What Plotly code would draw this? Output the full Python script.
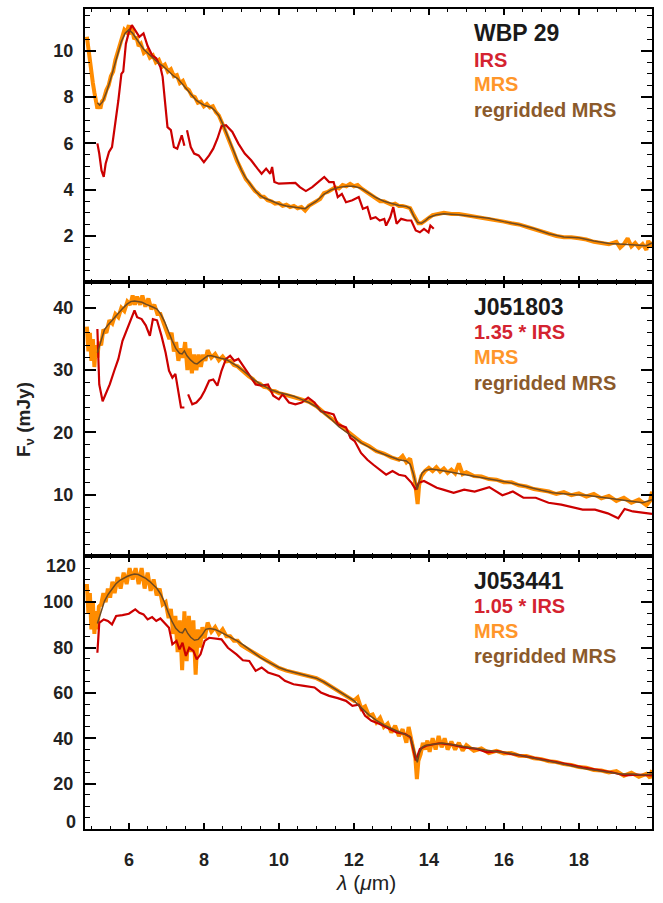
import plotly.graph_objects as go

# ---------------- data ----------------
# Panel 1: WBP 29
p1_mrs_x = [4.88,4.92,4.96,5.0,5.04,5.08,5.12,5.16,5.2,5.24,5.28,5.33,5.4,5.46,5.52,5.58,5.64,5.7,5.76,5.82,5.88,5.94,6.0,6.04,6.08,6.14,6.2,6.26,6.32,6.4,6.48,6.56,6.64,6.72,6.8,6.88,6.96,7.04,7.12,7.2,7.28,7.36,7.44,7.52,7.6,7.68,7.76,7.84,7.92,8.0,8.08,8.16,8.24,8.32,8.4,8.48,8.56,8.64,8.72,8.8,8.88,8.96,9.04,9.12,9.2,9.28,9.36,9.44,9.52,9.6,9.7,9.8,9.9,10.0,10.1,10.2,10.3,10.4,10.5,10.6,10.7,10.8,10.9,11.0,11.1,11.2,11.3,11.4,11.5,11.6,11.7,11.8,11.9,12.0,12.1,12.2,12.3,12.4,12.5,12.6,12.7,12.8,12.9,13.0,13.1,13.2,13.3,13.4,13.5,13.58,13.65,13.72,13.8,13.9,14.0,14.1,14.25,14.4,14.6,14.8,15.0,15.2,15.4,15.6,15.8,16.0,16.2,16.4,16.6,16.8,17.0,17.2,17.4,17.6,17.8,18.0,18.2,18.4,18.6,18.8,19.0,19.1,19.2,19.3,19.4,19.5,19.6,19.7,19.8,19.85,19.9,19.95]
p1_mrs_y = [10.6,10.0,9.5,9.0,8.6,8.2,7.8,7.5,7.7,7.5,7.8,7.9,8.3,8.5,8.9,9.1,9.6,9.9,10.3,10.5,10.9,10.8,11.1,10.7,11.0,10.5,10.6,10.2,10.3,9.9,10.0,9.7,9.8,9.5,9.6,9.3,9.4,9.1,9.2,8.9,8.95,8.6,8.7,8.4,8.3,8.05,8.0,7.75,7.8,7.6,7.7,7.55,7.6,7.35,7.2,6.9,6.6,6.3,5.9,5.6,5.25,4.95,4.7,4.45,4.3,4.1,3.95,3.85,3.7,3.7,3.55,3.5,3.4,3.42,3.3,3.35,3.25,3.3,3.2,3.25,3.1,3.3,3.4,3.55,3.6,3.85,3.9,4.0,4.1,4.05,4.2,4.15,4.25,4.15,4.2,4.05,3.95,3.85,3.7,3.65,3.5,3.5,3.4,3.35,3.4,3.3,3.3,3.25,3.2,2.95,2.7,2.55,2.55,2.65,2.8,2.9,2.95,3.0,2.95,2.95,2.9,2.85,2.8,2.75,2.7,2.62,2.55,2.5,2.4,2.3,2.2,2.1,2.0,1.95,1.95,1.9,1.85,1.75,1.7,1.65,1.75,1.5,1.65,1.9,1.55,1.7,1.5,1.65,1.4,1.8,1.55,1.75]
p1_reg_x = [5.16,5.22,5.3,5.4,5.5,5.6,5.7,5.8,5.9,6.0,6.1,6.2,6.3,6.4,6.5,6.6,6.7,6.8,6.9,7.0,7.1,7.2,7.3,7.4,7.5,7.6,7.7,7.8,7.9,8.0,8.1,8.2,8.3,8.4,8.5,8.6,8.7,8.8,8.9,9.0,9.1,9.2,9.3,9.4,9.5,9.6,9.8,10.0,10.2,10.4,10.6,10.7,10.8,11.0,11.2,11.4,11.6,11.8,12.0,12.2,12.4,12.6,12.8,13.0,13.2,13.4,13.5,13.6,13.7,13.8,13.9,14.0,14.2,14.4,14.8,15.2,15.6,16.0,16.4,16.8,17.2,17.6,18.0,18.4,18.8,19.2,19.6,19.8,19.95]
p1_reg_y = [7.75,7.65,7.8,8.2,8.7,9.3,9.9,10.4,10.75,10.9,10.75,10.5,10.3,10.05,9.9,9.75,9.6,9.45,9.35,9.2,9.05,8.9,8.8,8.6,8.45,8.25,8.05,7.85,7.75,7.65,7.6,7.55,7.4,7.2,6.85,6.45,6.0,5.6,5.2,4.85,4.55,4.3,4.1,3.9,3.75,3.65,3.5,3.38,3.3,3.25,3.2,3.18,3.3,3.5,3.8,4.0,4.1,4.15,4.15,4.05,3.85,3.65,3.5,3.4,3.32,3.28,3.2,2.85,2.58,2.55,2.65,2.8,2.92,2.96,2.92,2.84,2.77,2.62,2.5,2.32,2.1,1.96,1.92,1.78,1.68,1.64,1.6,1.58,1.7]
p1_irs_x = [5.16,5.21,5.27,5.33,5.38,5.47,5.55,5.63,5.72,5.8,5.85,5.92,6.0,6.08,6.17,6.28,6.39,6.5,6.62,6.73,6.84,6.9,6.96,7.03,7.12,7.2,7.29,7.41,7.48,7.52,7.55,7.65,7.74,7.86,8.0,8.14,8.25,8.36,8.47,8.59,8.76,8.92,9.09,9.26,9.43,9.54,9.66,9.77,9.82,9.88,10.0,10.22,10.44,10.56,10.72,10.89,11.06,11.21,11.34,11.46,11.57,11.68,11.79,11.96,12.13,12.24,12.36,12.45,12.58,12.69,12.81,12.86,12.97,13.05,13.14,13.26,13.42,13.53,13.65,13.76,13.87,13.99,14.04,14.13]
p1_irs_y = [6.0,5.56,4.83,4.55,5.12,5.63,5.84,6.7,7.86,9.0,9.1,10.3,10.8,11.1,10.9,10.6,10.75,10.2,9.8,9.67,9.3,8.87,7.86,6.7,6.57,5.84,5.77,6.35,5.9,None,6.57,5.84,5.56,5.48,5.19,5.48,5.77,6.2,6.74,6.78,6.49,5.99,5.56,5.27,4.91,4.69,4.91,4.69,4.98,4.33,4.26,4.26,4.29,4.11,3.94,4.11,4.33,4.55,4.33,4.33,3.68,3.82,3.46,3.54,3.68,3.17,3.25,2.74,2.81,2.67,2.74,2.45,2.81,3.25,2.53,2.74,2.67,2.67,2.24,2.16,2.31,2.16,2.45,2.31]

# Panel 2: J051803
p2_mrs_x = [4.88,4.92,4.96,5.0,5.04,5.08,5.12,5.16,5.2,5.26,5.32,5.4,5.48,5.56,5.64,5.72,5.8,5.88,5.96,6.04,6.1,6.16,6.22,6.3,6.36,6.44,6.52,6.6,6.68,6.76,6.84,6.92,7.0,7.08,7.14,7.2,7.26,7.32,7.38,7.44,7.5,7.56,7.62,7.68,7.74,7.8,7.86,7.92,7.98,8.04,8.1,8.2,8.3,8.4,8.5,8.6,8.7,8.8,8.9,9.0,9.1,9.2,9.3,9.4,9.5,9.6,9.7,9.8,9.9,10.0,10.2,10.4,10.6,10.8,11.0,11.2,11.4,11.6,11.8,12.0,12.2,12.4,12.6,12.8,13.0,13.2,13.3,13.4,13.5,13.56,13.62,13.66,13.7,13.74,13.8,13.9,14.0,14.1,14.2,14.3,14.4,14.5,14.6,14.7,14.8,14.9,15.0,15.2,15.4,15.6,15.8,16.0,16.2,16.4,16.6,16.8,17.0,17.2,17.4,17.6,17.8,18.0,18.2,18.4,18.6,18.8,19.0,19.2,19.4,19.6,19.8,19.9,19.95]
p2_mrs_y = [37.0,33.0,36.0,31.5,35.0,30.5,34.0,32.0,34.5,34.0,36.5,36.0,38.0,37.5,39.0,38.5,40.0,39.5,41.0,40.5,42.0,40.5,41.8,40.5,42.0,40.2,41.5,39.8,40.5,39.0,39.0,37.5,36.5,35.0,36.0,33.0,34.5,31.5,33.5,32.0,34.5,30.0,33.5,29.5,32.5,30.0,32.5,30.5,32.5,31.5,33.2,32.0,32.6,31.6,32.2,31.4,31.5,30.8,30.6,30.0,29.6,29.0,28.6,28.0,27.8,27.3,27.2,26.7,26.6,26.3,26.0,25.7,25.3,24.9,24.2,23.2,22.2,21.2,20.3,19.4,18.4,17.8,17.0,16.6,16.0,15.6,16.2,15.2,15.8,14.0,12.5,10.5,8.5,11.5,13.0,13.8,14.3,13.8,14.4,13.7,14.2,13.5,14.0,13.4,15.0,13.3,13.6,13.0,12.9,12.5,12.4,12.0,12.0,11.5,11.3,10.9,10.7,10.5,10.1,10.4,9.9,10.2,9.7,10.1,9.4,9.8,9.0,9.5,8.7,9.2,8.3,9.0,10.5]
p2_reg_x = [5.16,5.25,5.35,5.45,5.55,5.65,5.75,5.85,5.95,6.05,6.15,6.25,6.35,6.45,6.55,6.65,6.75,6.85,6.95,7.05,7.15,7.25,7.35,7.42,7.48,7.55,7.65,7.75,7.82,7.9,8.0,8.1,8.2,8.3,8.45,8.6,8.75,8.9,9.05,9.2,9.35,9.5,9.65,9.8,10.0,10.2,10.4,10.6,10.8,11.0,11.2,11.4,11.6,11.8,12.0,12.2,12.4,12.6,12.8,13.0,13.2,13.4,13.5,13.58,13.64,13.69,13.75,13.82,13.9,14.05,14.3,14.6,14.9,15.2,15.5,15.8,16.1,16.4,16.7,17.0,17.3,17.6,17.9,18.2,18.5,18.8,19.1,19.4,19.7,19.95]
p2_reg_y = [32.8,34.5,36.5,37.3,38.0,38.6,39.3,40.0,40.6,41.0,41.1,41.0,40.9,40.6,40.4,40.1,39.8,39.0,37.8,36.2,34.8,33.5,32.7,32.6,33.1,32.3,31.6,31.1,31.0,31.4,31.9,32.3,32.3,32.1,31.9,31.7,31.2,30.6,29.9,29.1,28.4,27.8,27.3,26.8,26.4,26.1,25.8,25.3,24.8,24.1,23.1,22.1,20.9,20.1,19.2,18.3,17.6,17.0,16.5,16.0,15.6,15.4,14.9,13.5,11.8,10.8,12.3,13.5,13.9,14.1,13.9,13.6,13.25,12.9,12.6,12.35,12.0,11.6,11.1,10.7,10.3,10.1,10.0,9.9,9.7,9.4,9.2,8.95,8.7,9.2]
p2_irs_x = [5.16,5.21,5.3,5.38,5.49,5.61,5.72,5.83,5.94,6.06,6.15,6.22,6.34,6.45,6.56,6.64,6.75,6.87,6.98,7.07,7.16,7.24,7.32,7.39,7.48,7.53,7.58,7.69,7.8,7.92,8.02,8.14,8.25,8.36,8.47,8.59,8.7,8.81,8.92,9.09,9.26,9.38,9.54,9.71,9.85,10.0,10.1,10.27,10.44,10.61,10.78,10.95,11.12,11.29,11.46,11.57,11.68,11.79,11.91,12.02,12.19,12.36,12.52,12.69,12.86,13.03,13.2,13.37,13.54,13.65,13.73,13.87,14.04,14.21,14.38,14.66,14.94,15.22,15.61,15.96,16.24,16.52,16.85,17.19,17.53,17.75,18.1,18.43,18.77,19.05,19.22,19.44,19.78,19.95]
p2_irs_y = [36.6,27.7,25.0,26.1,27.7,29.9,31.8,34.7,36.3,38.0,39.6,38.5,38.2,37.2,35.5,38.2,38.0,35.5,32.8,29.9,28.8,29.4,26.7,24.0,24.0,None,26.1,24.5,24.8,25.6,26.7,28.3,28.5,27.5,29.9,31.8,32.3,31.5,31.8,30.4,28.8,27.7,27.5,27.7,25.9,25.3,26.1,24.8,24.5,24.8,25.6,24.8,23.4,23.2,22.9,21.3,21.0,20.8,19.1,18.6,16.7,15.6,14.8,14.0,13.2,13.8,13.2,13.0,11.9,10.8,11.9,12.2,11.6,11.1,10.8,10.3,10.8,10.5,11.2,9.9,10.5,9.5,9.5,8.7,8.4,8.1,7.6,7.6,7.0,6.2,7.7,7.3,7.0,6.9]

# Panel 3: J053441
p3_mrs_x = [4.88,4.92,4.96,5.0,5.04,5.08,5.12,5.16,5.2,5.26,5.32,5.38,5.44,5.5,5.56,5.62,5.7,5.78,5.86,5.94,6.02,6.1,6.18,6.26,6.34,6.42,6.5,6.58,6.66,6.74,6.82,6.9,6.98,7.06,7.12,7.18,7.24,7.3,7.36,7.42,7.48,7.54,7.6,7.66,7.72,7.78,7.84,7.9,7.96,8.02,8.1,8.2,8.3,8.4,8.5,8.6,8.7,8.8,8.9,9.0,9.1,9.2,9.3,9.4,9.5,9.6,9.7,9.8,9.9,10.0,10.2,10.4,10.6,10.8,11.0,11.2,11.4,11.6,11.8,12.0,12.1,12.2,12.3,12.4,12.5,12.6,12.7,12.8,12.9,13.0,13.1,13.2,13.3,13.4,13.46,13.52,13.58,13.64,13.68,13.72,13.78,13.84,13.9,13.96,14.02,14.1,14.18,14.26,14.34,14.42,14.5,14.6,14.7,14.8,14.9,15.0,15.2,15.4,15.6,15.8,16.0,16.2,16.4,16.6,16.8,17.0,17.2,17.4,17.6,17.8,18.0,18.2,18.4,18.6,18.8,19.0,19.2,19.4,19.6,19.8,19.9,19.95]
p3_mrs_y = [108,95,104,88,100,86,96,88,98,99,104,100,106,102,109,104,111,106,113,108,115,110,115,108,115,106,113,105,110,103,106,99,100,93,97,86,94,78,92,70,96,74,94,78,92,68,88,80,89,84,91,87,89,86,88,85,85,83,83,81,80,79,77.5,76.5,75.5,74.5,73.5,72.5,72,71,69.8,69,68,67.3,66.5,64.8,62.8,60.5,58.8,56.5,58,53,54,50,50.5,47,49,45,46.5,42.5,45.5,41,44,38,45,40,37,31,22,30,33,38,35,39,34,40,35,41,36,40,35,38.5,35,38,34.5,37,34.5,35.5,33.5,34.5,33.3,33.5,32.3,32.2,31.2,30.8,29.9,29.5,28.6,28.2,27.3,27.0,26.0,25.8,24.9,25.5,23.5,24.8,23.0,24.3,22.5,26]
p3_reg_x = [5.16,5.25,5.35,5.45,5.55,5.65,5.75,5.85,5.95,6.05,6.15,6.25,6.35,6.45,6.55,6.65,6.75,6.85,6.95,7.05,7.15,7.25,7.35,7.43,7.5,7.57,7.65,7.75,7.85,7.95,8.05,8.15,8.3,8.45,8.6,8.75,8.9,9.05,9.2,9.35,9.5,9.65,9.8,10.0,10.2,10.4,10.6,10.8,11.0,11.2,11.4,11.6,11.8,12.0,12.2,12.4,12.6,12.8,13.0,13.2,13.4,13.5,13.58,13.64,13.69,13.75,13.82,13.9,14.1,14.35,14.6,14.9,15.2,15.5,15.8,16.1,16.4,16.7,17.0,17.3,17.6,17.9,18.2,18.5,18.8,19.1,19.4,19.7,19.95]
p3_reg_y = [90.6,95,100.5,103.5,106,108,109.5,110.5,111.3,112,112.4,112.2,111.5,110.5,109.2,107.7,106,103.5,100,95.5,91.5,88.5,86.8,86.5,88.5,86.2,84.5,83.2,83.6,85.5,88.0,88.4,88.0,86.8,85.5,84.3,82.8,81.2,79.3,77.4,75.7,74.2,72.8,71.2,70,69.1,68.2,67.4,66.5,64.8,62.7,60.5,58.6,56.6,53.4,50.3,47.9,45.9,44.3,42.8,41.6,40.8,36.5,32.0,29.4,33.5,36.0,36.8,37.4,37.9,37.3,36.4,35.5,34.8,34.2,33.6,32.6,31.4,30.5,29.6,28.5,27.6,26.5,25.8,25.1,24.2,24.2,23.8,24.3]
p3_irs_x = [5.16,5.21,5.33,5.44,5.55,5.66,5.83,6.0,6.17,6.28,6.39,6.5,6.62,6.73,6.84,6.98,7.07,7.16,7.27,7.35,7.43,7.52,7.61,7.72,7.81,7.91,8.02,8.14,8.31,8.47,8.64,8.87,9.04,9.21,9.38,9.54,9.71,10.0,10.16,10.39,10.67,10.95,11.12,11.34,11.57,11.79,11.96,12.13,12.3,12.47,12.69,12.92,13.14,13.37,13.51,13.65,13.76,13.93,14.27,14.6,14.94,15.28,15.56,15.84,16.18,16.63,16.97,17.3,17.75,18.1,18.55,18.88,19.22,19.55,19.95]
p3_irs_y = [77.7,90.9,92.4,91.7,90.2,93.9,94.3,94.9,96.8,95.3,94.6,92.4,93.4,91.7,92.8,90.2,88.7,81.4,82.9,79.2,82.1,76.3,79.9,78.5,74.8,77.0,82.9,84.3,84.0,83.6,79.9,77.0,74.4,74.1,69.7,71.2,69.0,67.5,65.3,63.8,63.1,62.4,60.2,58.7,57.7,56.5,54.3,54.8,49.9,47.7,46.3,44.5,42.6,41.9,40.4,30.2,35.3,36.7,37.8,37.2,36.0,35.3,33.8,34.3,33.1,31.9,30.9,29.9,28.4,27.2,25.8,25.0,23.6,24.0,23.6]

panel_names = ["WBP 29", "J051803", "J053441"]
irs_labels = ["IRS", "1.35 * IRS", "1.05 * IRS"]
y_ranges = [[0, 11.8], [0.2, 44.1], [0, 120.5]]
y_tickvals = [[2, 4, 6, 8, 10], [10, 20, 30, 40], [20, 40, 60, 80, 100]]
y_edge_labels = ["0", "120"]   # bottom panel labels drawn just inside the frame
y_minor = [0.5, 2, 5]
x_range = [4.83, 19.95]

# ---------------- figure ----------------
C_MRS = "#ff8c00"
C_IRS = "#cc0000"
C_REG = "#6e4a22"
FONT = "Liberation Sans"

panels = [
    (p1_mrs_x, p1_mrs_y, p1_irs_x, p1_irs_y, p1_reg_x, p1_reg_y),
    (p2_mrs_x, p2_mrs_y, p2_irs_x, p2_irs_y, p2_reg_x, p2_reg_y),
    (p3_mrs_x, p3_mrs_y, p3_irs_x, p3_irs_y, p3_reg_x, p3_reg_y),
]

fig = go.Figure()
for i, (mx, my, ix, iy, rx, ry) in enumerate(panels):
    ax = "" if i == 0 else str(i + 1)
    fig.add_trace(go.Scatter(x=mx, y=my, mode="lines", line=dict(color=C_MRS, width=4),
                             xaxis="x" + ax, yaxis="y" + ax, showlegend=False))
    fig.add_trace(go.Scatter(x=ix, y=iy, mode="lines", line=dict(color=C_IRS, width=2.2),
                             connectgaps=False, xaxis="x" + ax, yaxis="y" + ax, showlegend=False))
    fig.add_trace(go.Scatter(x=rx, y=ry, mode="lines", line=dict(color=C_REG, width=1.5),
                             xaxis="x" + ax, yaxis="y" + ax, showlegend=False))

L, R, T, B = 85, 11, 9, 74
W, H = 663, 903
plot_h = H - T - B
plot_w = W - L - R
doms = [[2/3, 1.0], [1/3, 2/3], [0.0, 1/3]]

layout = dict(width=W, height=H, margin=dict(l=L, r=R, t=T, b=B, autoexpand=False),
              paper_bgcolor="white", plot_bgcolor="white",
              font=dict(family=FONT, color="#222222"))
for i in range(3):
    ax = "" if i == 0 else str(i + 1)
    layout["xaxis" + ax] = dict(
        domain=[0, 1], anchor="y" + ax, range=x_range, automargin=False,
        showline=True, linecolor="black", linewidth=2, mirror="ticks",
        ticks="inside", ticklen=6, tickwidth=1.5, tickcolor="black",
        tickmode="linear", tick0=6, dtick=2,
        minor=dict(ticks="inside", ticklen=3, tickwidth=1.2, tickcolor="black",
                   tickmode="linear", tick0=5, dtick=0.5),
        showgrid=False, zeroline=False,
        showticklabels=(i == 2),
        tickfont=dict(family=FONT, size=18, color="#222222", weight="bold"),
        ticklabelstandoff=13,
    )
    if i < 2:
        layout["xaxis" + ax]["matches"] = "x3"
    layout["yaxis" + ax] = dict(
        domain=doms[i], anchor="x" + ax, range=y_ranges[i], automargin=False,
        showline=True, linecolor="black", linewidth=2, mirror="ticks",
        ticks="inside", ticklen=11, tickwidth=1.5, tickcolor="black",
        tickmode="array", tickvals=y_tickvals[i],
        minor=dict(ticks="inside", ticklen=5, tickwidth=1.2, tickcolor="black",
                   tickmode="linear", tick0=0, dtick=y_minor[i]),
        showgrid=False, zeroline=False,
        tickfont=dict(family=FONT, size=18, color="#222222", weight="bold"),
        ticklabelstandoff=6,
    )
fig.update_layout(**layout)

def ypaper(py):
    return (H - B - py) / plot_h

def xpaper(px):
    return (px - L) / plot_w

# bottom-panel edge labels (0 and 120), nudged inside the frame as in the reference
for txt, py in zip(y_edge_labels, [822, 566]):
    fig.add_annotation(x=xpaper(77.5), y=ypaper(py), xref="paper", yref="paper",
                       text=txt, showarrow=False, xanchor="right", yanchor="middle",
                       font=dict(family=FONT, size=18, color="#222222", weight="bold"))

text_x = xpaper(472)
label_rows = [
    [33.3, 60.0, 84.0, 110.0],
    [307.3, 332.3, 357.3, 383.3],
    [580.7, 605.8, 630.8, 656.0],
]
for i in range(3):
    rows = label_rows[i]
    items = [
        (panel_names[i], "#1a1a1a", 23),
        (irs_labels[i], "#d42330", 20),
        ("MRS", "#ff962a", 20),
        ("regridded MRS", "#8b5a2b", 20),
    ]
    for (txt, col, sz), py in zip(items, rows):
        fig.add_annotation(x=text_x, y=ypaper(py), xref="paper", yref="paper",
                           text=txt, showarrow=False, xanchor="left", yanchor="middle",
                           font=dict(family=FONT, size=sz, color=col, weight="bold"))

# axis titles
fig.add_annotation(x=xpaper(25), y=ypaper(420), xref="paper", yref="paper",
                   text="F<sub>ν</sub> (mJy)", textangle=-90, showarrow=False,
                   xanchor="center", yanchor="middle",
                   font=dict(family=FONT, size=19, color="#222222", weight="bold"))
fig.add_annotation(x=xpaper(366), y=ypaper(882), xref="paper", yref="paper",
                   text="<i>λ</i> (<i>μ</i>m)", showarrow=False,
                   xanchor="center", yanchor="middle",
                   font=dict(family=FONT, size=21, color="#222222"))

fig.write_html("out.html")
